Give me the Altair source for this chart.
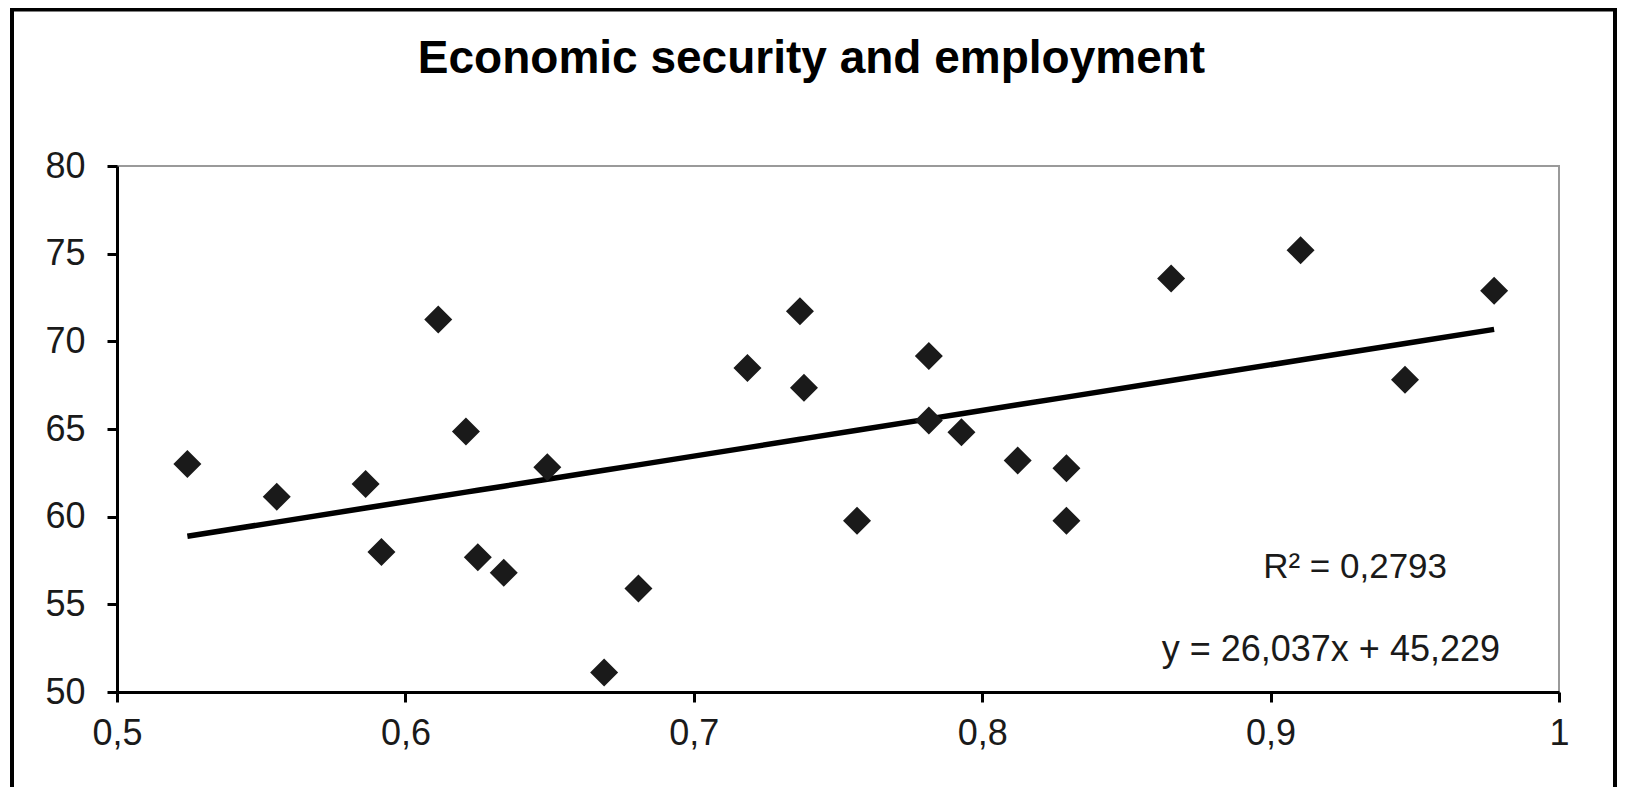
import altair as alt
import pandas as pd

title_text = "Economic security and employment"

xs = [0.5244, 0.5554, 0.5862, 0.5917, 0.6114, 0.6210, 0.6251, 0.6341, 0.6492,
      0.6689, 0.6808, 0.7186, 0.7368, 0.7382, 0.7566, 0.7815, 0.7815, 0.7928,
      0.8123, 0.8292, 0.8292, 0.8655, 0.9104, 0.9466, 0.9775]
ys = [63.00, 61.14, 61.87, 57.98, 71.24, 64.86, 57.69, 56.80, 62.82,
      51.11, 55.91, 68.48, 71.71, 67.35, 59.77, 69.16, 65.49, 64.82,
      63.20, 62.76, 59.77, 73.58, 75.20, 67.81, 72.88]

slope = 26.037
intercept = 45.229
r2_label = "R² = 0,2793"
eq_label = "y = 26,037x + 45,229"

x_ticks = [0.5, 0.6, 0.7, 0.8, 0.9, 1.0]
y_ticks = [50, 55, 60, 65, 70, 75, 80]

FONT = "Liberation Sans, Arial, Helvetica, sans-serif"
INK = "#1a1a1a"

df = pd.DataFrame({"x": xs, "y": ys})

xscale = alt.Scale(domain=[0.5, 1.0], nice=False, zero=False)
yscale = alt.Scale(domain=[50, 80], nice=False, zero=False)

xaxis = alt.Axis(values=x_ticks, title=None, grid=False,
                 labelExpr="replace(format(datum.value, '.1~f'), '.', ',')",
                 labelFont=FONT, labelFontSize=36, labelColor=INK,
                 labelPadding=14, tickSize=10, tickWidth=3, tickColor="black",
                 domainColor="black", domainWidth=3, labelFlush=False)
yaxis = alt.Axis(values=y_ticks, title=None, grid=False,
                 labelFont=FONT, labelFontSize=36, labelColor=INK,
                 labelPadding=22, tickSize=10, tickWidth=3, tickColor="black",
                 domainColor="black", domainWidth=3, labelFlush=False)

base = alt.Chart(df)

points = base.mark_point(shape="diamond", filled=True, size=784, color=INK, opacity=1).encode(
    x=alt.X("x:Q", scale=xscale, axis=xaxis),
    y=alt.Y("y:Q", scale=yscale, axis=yaxis),
)

trend = base.transform_calculate(
    yhat=f"{slope} * datum.x + {intercept}"
).mark_line(color="black", strokeWidth=5.5).encode(
    x=alt.X("x:Q", scale=xscale),
    y=alt.Y("yhat:Q", scale=yscale),
)

ann = pd.DataFrame({
    "label": [r2_label, eq_label],
    "ax": [0.9293, 0.9209],
    "ay": [56.51, 51.77],
    "fs": [35, 36],
})
annotations = alt.Chart(ann).mark_text(font=FONT, color=INK, align="center",
                                       baseline="alphabetic").encode(
    x=alt.X("ax:Q", scale=xscale),
    y=alt.Y("ay:Q", scale=yscale),
    text="label:N",
    size=alt.Size("fs:Q", scale=None, legend=None),
)

title = alt.Chart(pd.DataFrame({"t": [title_text]})).mark_text(
    font=FONT, fontSize=46, fontWeight="bold", color="black",
    align="center", baseline="alphabetic"
).encode(text="t:N", x=alt.value(694.5), y=alt.value(-93))

frame_df = pd.DataFrame({"k": [0]})
frame_left = alt.Chart(frame_df).mark_rule(color="black", strokeWidth=4).encode(
    x=alt.value(-105), y=alt.value(-157), y2=alt.value(800))
frame_right = alt.Chart(frame_df).mark_rule(color="black", strokeWidth=4).encode(
    x=alt.value(1498), y=alt.value(-157), y2=alt.value(800))
frame_top = alt.Chart(frame_df).mark_rule(color="black", strokeWidth=5).encode(
    x=alt.value(-107), x2=alt.value(1500), y=alt.value(-157))

chart = alt.layer(
    trend, points, annotations, title, frame_left, frame_right, frame_top
).properties(
    width=1442, height=526,
    padding={"left": 109, "top": 158, "right": 58, "bottom": 95},
    autosize=alt.AutoSizeParams(type="none"),
    background="white",
).configure_view(
    stroke="#9a9a9a", strokeWidth=2
)

chart.save("out.html", embed_options={"renderer": "svg", "actions": False})
